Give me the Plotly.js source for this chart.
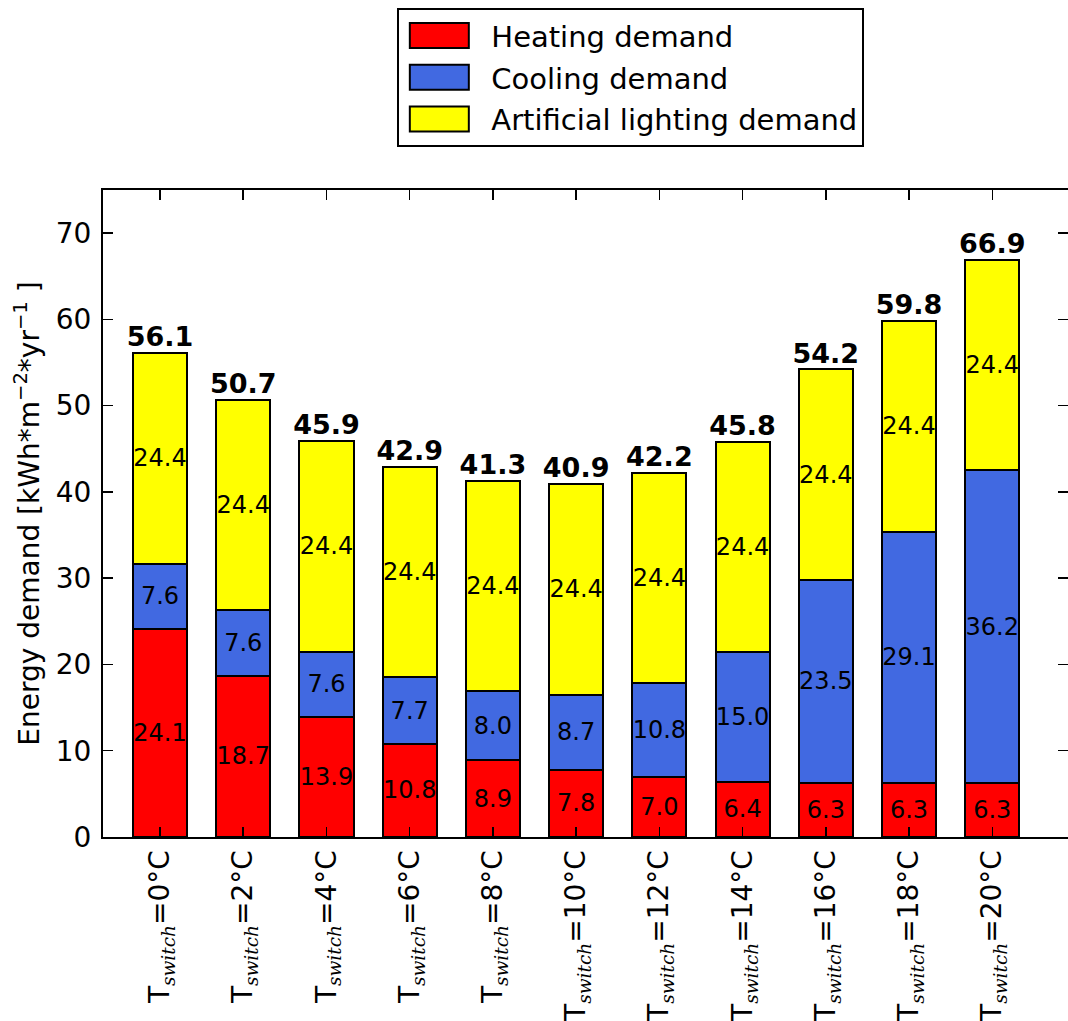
<!DOCTYPE html>
<html>
<head>
<meta charset="utf-8">
<script src="https://cdn.plot.ly/plotly-3.0.1.min.js"></script>
<style>
  body { margin: 0; padding: 0; background: #fff; }
  #chart { width: 1068px; height: 1021px; }
  .legend .legendpoints path {
    d: path("M29.5,12.5H-29.5V-12.5H29.5Z");
    transform: translate(40px, 0px);
  }
</style>
</head>
<body>
<div id="chart"></div>
<script>
// ---- data ----
const switchTemps = ['0', '2', '4', '6', '8', '10', '12', '14', '16', '18', '20'];
const heating  = [24.1, 18.7, 13.9, 10.8, 8.9, 7.8, 7.0, 6.4, 6.3, 6.3, 6.3];
const cooling  = [7.6, 7.6, 7.6, 7.7, 8.0, 8.7, 10.8, 15.0, 23.5, 29.1, 36.2];
const lighting = [24.4, 24.4, 24.4, 24.4, 24.4, 24.4, 24.4, 24.4, 24.4, 24.4, 24.4];
const totals   = [56.1, 50.7, 45.9, 42.9, 41.3, 40.9, 42.2, 45.8, 54.2, 59.8, 66.9];
const seriesNames = ['Heating demand', 'Cooling demand', 'Artificial lighting demand'];
const yTicks = [0, 10, 20, 30, 40, 50, 60, 70];

const tickLabels = switchTemps.map(t =>
  'T<sub><span style="font-family:DejaVu Serif;font-style:italic;font-size:18.5px">switch</span></sub>=' + t + '°C');

const FONT = 'DejaVu Sans, sans-serif';
const colors = ['#ff0000', '#4169e1', '#ffff00'];
const values = [heating, cooling, lighting];

const barTraces = values.map((v, i) => ({
  type: 'bar',
  name: seriesNames[i],
  x: tickLabels,
  y: v,
  width: 0.65,
  legendgroup: 'g' + i,
  marker: { color: colors[i], line: { color: '#000', width: 2 } },
  text: v.map(n => n.toFixed(1)),
  textposition: 'inside',
  insidetextanchor: 'middle',
  textangle: 0,
  constraintext: 'none',
  insidetextfont: { family: FONT, size: 24, color: '#000' },
  hoverinfo: 'name+y'
}));

const totalTrace = {
  type: 'scatter',
  mode: 'text',
  x: tickLabels,
  y: totals,
  text: totals.map(n => n.toFixed(1)),
  textposition: 'top center',
  textfont: { family: FONT, size: 27, color: '#000', weight: 'bold' },
  showlegend: false,
  hoverinfo: 'skip',
  cliponaxis: false
};

const axisCommon = {
  showline: true, linecolor: '#000', linewidth: 2, mirror: 'ticks',
  ticks: 'inside', ticklen: 10, tickwidth: 1.5, tickcolor: '#000',
  showgrid: false, zeroline: false,
  tickfont: { family: FONT, size: 28, color: '#000' }
};

const layout = {
  width: 1068, height: 1021,
  margin: { l: 103, r: 0, t: 190, b: 184 },
  paper_bgcolor: '#fff', plot_bgcolor: '#fff',
  barmode: 'stack',
  font: { family: FONT, color: '#000' },
  showlegend: true,
  legend: {
    x: 0.305, y: 1.281, xanchor: 'left', yanchor: 'top',
    bordercolor: '#000', borderwidth: 2, bgcolor: '#fff',
    font: { family: FONT, size: 29, color: '#000' },
    traceorder: 'grouped', tracegroupgap: 1,
    itemwidth: 82
  },
  xaxis: Object.assign({}, axisCommon, {
    type: 'category',
    range: [-0.685, 10.91],
    tickangle: -90
  }),
  yaxis: Object.assign({}, axisCommon, {
    range: [0, 75],
    tickvals: yTicks,
    ticktext: yTicks.map(String),
    ticklabelstandoff: 4,
    title: {
      text: 'Energy demand [kWh*m<sup>−2</sup>*yr<sup>−1</sup> ]',
      font: { family: FONT, size: 28, color: '#000' },
      standoff: 8
    }
  })
};

Plotly.newPlot('chart', barTraces.concat([totalTrace]), layout, { displayModeBar: false, staticPlot: true });
</script>
</body>
</html>
